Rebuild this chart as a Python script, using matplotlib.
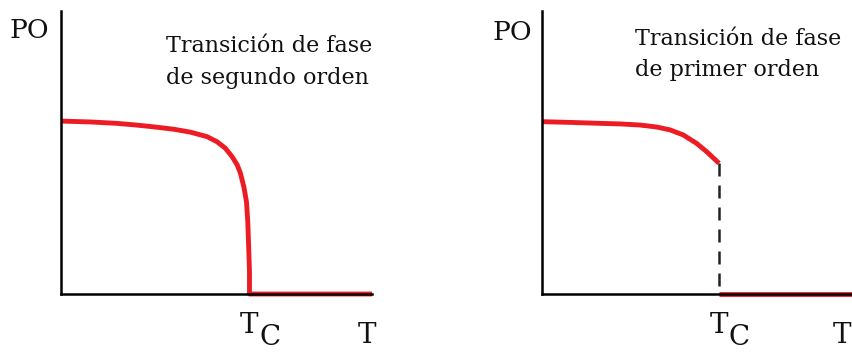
import matplotlib
matplotlib.use("Agg")
import matplotlib.pyplot as plt
import matplotlib.transforms as mtransforms

# Order parameter (PO) vs temperature, T in units of the critical temperature Tc
TC = 1.0

# Second-order transition: PO falls continuously to zero at Tc
T_second = [0.0, 0.154, 0.296, 0.400, 0.500, 0.600, 0.686, 0.775, 0.828, 0.872, 0.908,
            0.935, 0.952, 0.970, 0.984, 0.991, 0.996, 1.0, 1.0]
PO_second = [0.611, 0.608, 0.603, 0.597, 0.590, 0.582, 0.572, 0.556, 0.538, 0.515, 0.485,
             0.456, 0.427, 0.379, 0.326, 0.255, 0.161, 0.079, 0.0]
T_max_second = 1.650

# First-order transition: PO jumps from a finite value to zero at Tc
T_first = [0.0, 0.177, 0.328, 0.441, 0.554, 0.648, 0.723, 0.798, 0.874, 0.930, 1.0]
PO_first = [0.609, 0.606, 0.603, 0.601, 0.597, 0.590, 0.580, 0.562, 0.532, 0.503, 0.462]
T_max_first = 1.757

titles = [["Transición de fase", "de segundo orden"],
          ["Transición de fase", "de primer orden"]]
y_label = "PO"
x_label = "T"

RED = "#ED1C24"
FONT = "DejaVu Serif"
INK = "#111111"
W, H = 853, 352

fig = plt.figure(figsize=(W / 100, H / 100), dpi=100)


def px_axes(x0, x1, y_top, y_bot):
    return fig.add_axes([x0 / W, (H - y_bot) / H, (x1 - x0) / W, (y_bot - y_top) / H])


def style(ax, tmax):
    ax.set_xlim(0, tmax)
    ax.set_ylim(0, 1)
    for side in ("top", "right"):
        ax.spines[side].set_visible(False)
    for side in ("left", "bottom"):
        ax.spines[side].set_linewidth(1.8)
        ax.spines[side].set_color("black")
    ax.set_xticks([])
    ax.set_yticks([])
    ax.patch.set_alpha(0)


ax1 = px_axes(61, 372, 11, 294)
style(ax1, T_max_second)
ax1.plot(T_second + [T_max_second], PO_second + [0.0], color=RED, lw=3.5,
         solid_joinstyle="round", solid_capstyle="butt", clip_on=False)

ax2 = px_axes(542, 853, 11, 294)
style(ax2, T_max_first)
ax2.plot(T_first, PO_first, color=RED, lw=3.5, solid_joinstyle="round",
         solid_capstyle="butt", clip_on=False)
ax2.plot([TC, TC], [PO_first[-1], 0.0], color="#222222", lw=1.8,
         dashes=(5.2, 3.6), clip_on=False)
ax2.plot([TC, T_max_first], [0.0, 0.0], color=RED, lw=3.5,
         solid_capstyle="butt", clip_on=False)


def ftext(x, y, s, size, **kw):
    fig.text(x / W, 1 - y / H, s, fontsize=size, family=FONT, va="baseline",
             ha="left", color=INK, **kw)


# Axis names
ftext(10, 38, y_label, 19)
ftext(493, 40, y_label, 19)

# Panel titles, one line at a time
for lines, x, baselines in ((titles[0], 166, (52, 84)), (titles[1], 635, (45, 76))):
    for line, yb in zip(lines, baselines):
        ftext(x, yb, line, 16)

# Tc marks under each panel and the T axis names
for ax, tx in ((ax1, 358), (ax2, 833)):
    trans = mtransforms.blended_transform_factory(ax.transData, fig.transFigure)
    ax.text(TC, 1 - 333 / H, "T", transform=trans, fontsize=20, family=FONT,
            ha="center", va="baseline", color=INK)
    cx = mtransforms.offset_copy(trans, fig=fig, x=7.0, y=-8.5, units="points")
    ax.text(TC, 1 - 333 / H, "C", transform=cx, fontsize=20, family=FONT,
            ha="left", va="baseline", color=INK)
    ftext(tx, 343, x_label, 20)

fig.savefig("out.png", dpi=100)
